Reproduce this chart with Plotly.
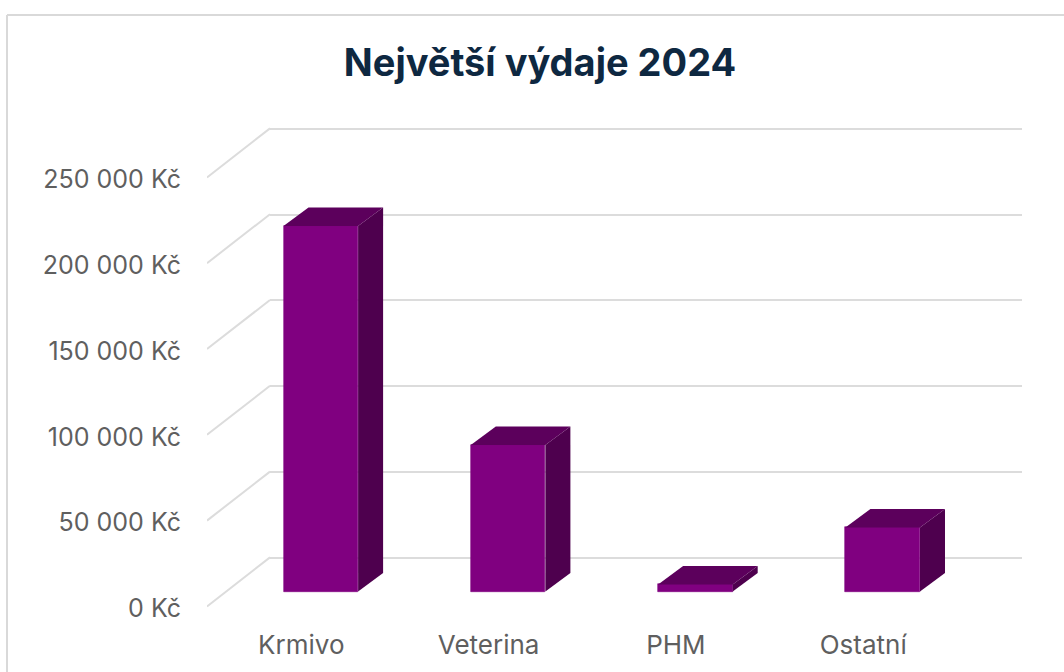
import plotly.graph_objects as go

categories = ["Krmivo", "Veterina", "PHM", "Ostatní"]
values = [213000, 85400, 4200, 37400]
tick_values = [0, 50000, 100000, 150000, 200000, 250000]
tick_labels = ["0 Kč", "50 000 Kč", "100 000 Kč", "150 000 Kč", "200 000 Kč", "250 000 Kč"]

W, H = 1064, 672
TOP, BOTTOM = 100, 627       # plot band in pixels
LEFT, BACK_LEFT, RIGHT = 207, 270, 1022
PX_PER_VAL = 85.8 / 50000
CAT_STEP = 187.3
CAT0 = 320.8
BAR_W = 74.6 / CAT_STEP
DEPTH_X = 25 / CAT_STEP
DEPTH_Y = 18.5 / PX_PER_VAL
WALL_X = (BACK_LEFT - LEFT) / CAT_STEP
WALL_Y = 49 / PX_PER_VAL
LABEL_SHIFT = 19.5 / CAT_STEP


def yrange(zero_px):
    return [(zero_px - BOTTOM) / PX_PER_VAL, (zero_px - TOP) / PX_PER_VAL]


def xrange_for(left_px):
    return [(left_px - CAT0) / CAT_STEP, (RIGHT - CAT0) / CAT_STEP]


ydom = [1 - BOTTOM / H, 1 - TOP / H]
idx = list(range(len(categories)))
fig = go.Figure()

# back-wall gridlines (first subplot, sits under the bars)
fig.add_trace(go.Scatter(x=[0, 1], y=tick_values[:2], mode="none", xaxis="x", yaxis="y",
                         hoverinfo="skip", showlegend=False))

# side-wall diagonals, tied to the tick values
for v in tick_values:
    x0 = xrange_for(LEFT)[0]
    fig.add_trace(go.Scatter(x=[x0, x0 + WALL_X], y=[v, v + WALL_Y], mode="lines",
                             line=dict(color="#DCDCDC", width=2), xaxis="x2", yaxis="y3",
                             hoverinfo="skip", showlegend=False))

# front faces
fig.add_trace(go.Bar(x=idx, y=values, width=BAR_W,
                     marker=dict(color="#800080", line=dict(width=0.6, color="#800080")),
                     xaxis="x2", yaxis="y2", showlegend=False))

# side and top faces
for i, v in zip(idx, values):
    r = i + BAR_W / 2
    l = i - BAR_W / 2
    fig.add_trace(go.Scatter(x=[r, r + DEPTH_X, r + DEPTH_X, r, r],
                             y=[0, DEPTH_Y, v + DEPTH_Y, v, 0],
                             mode="lines", fill="toself", fillcolor="#4E004E", line=dict(width=0),
                             xaxis="x2", yaxis="y2", hoverinfo="skip", showlegend=False))
    fig.add_trace(go.Scatter(x=[l, r, r + DEPTH_X, l + DEPTH_X, l],
                             y=[v, v, v + DEPTH_Y, v + DEPTH_Y, v],
                             mode="lines", fill="toself", fillcolor="#5C005C", line=dict(width=0),
                             xaxis="x2", yaxis="y2", hoverinfo="skip", showlegend=False))

FONT = "Inter"
TXT = "#5F5F5F"
fig.update_layout(
    width=W, height=H, margin=dict(l=0, r=0, t=0, b=0),
    paper_bgcolor="white", plot_bgcolor="rgba(0,0,0,0)", showlegend=False, bargap=0,
    font=dict(family=FONT, color=TXT, size=24),
    title=dict(text="<b>Největší výdaje 2024</b>", x=540 / W, xanchor="center",
               y=1 - 63 / H, yanchor="middle",
               font=dict(family=FONT, size=38, color="#0E2841")),
    xaxis=dict(domain=[BACK_LEFT / W, RIGHT / W], range=xrange_for(BACK_LEFT), visible=False,
               anchor="y"),
    yaxis=dict(domain=ydom, range=yrange(557.7), tickvals=tick_values, showgrid=True,
               gridcolor="#DCDCDC", gridwidth=2, zeroline=False, showticklabels=False,
               ticks="", showline=False, anchor="x"),
    xaxis2=dict(domain=[LEFT / W, RIGHT / W], range=xrange_for(LEFT), anchor="y2",
                tickvals=[i - LABEL_SHIFT for i in idx], ticktext=categories, showgrid=False,
                zeroline=False, showline=False, ticks="", tickfont=dict(size=26, color=TXT)),
    yaxis2=dict(domain=ydom, range=yrange(591.6), visible=False, anchor="x2", showgrid=False,
                zeroline=False),
    yaxis3=dict(domain=ydom, range=yrange(606.4), overlaying="y2", anchor="x2", side="left",
                tickvals=tick_values, ticktext=tick_labels, showgrid=False, zeroline=False,
                showline=False, ticks="outside", ticklen=20, tickcolor="rgba(0,0,0,0)",
                ticklabelshift=2, tickfont=dict(size=25, color=TXT)),
    shapes=[
        dict(type="line", xref="paper", yref="paper", x0=7 / W, x1=7 / W, y0=0, y1=1 - 15 / H,
             line=dict(color="#D9D9D9", width=2)),
        dict(type="line", xref="paper", yref="paper", x0=7 / W, x1=1, y0=1 - 15 / H, y1=1 - 15 / H,
             line=dict(color="#D9D9D9", width=2)),
    ],
)

fig.write_html("out.html", config={"displayModeBar": False},
               post_script="document.body.style.margin='0';document.body.style.overflow='hidden';")
